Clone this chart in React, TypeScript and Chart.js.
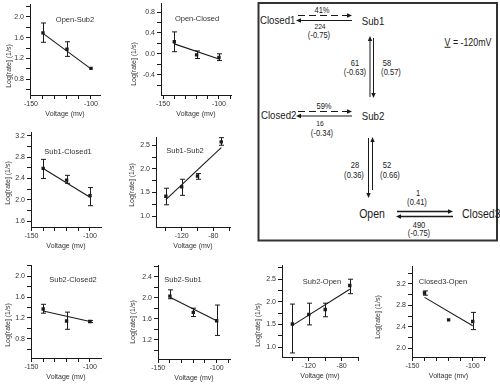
import React, { useEffect, useRef } from "react";
import { Chart, registerables } from "chart.js";
Chart.register(...registerables);

const FONT = "'Liberation Sans', Arial, sans-serif";
const INK = "#1a1a1a";
const TXT = "#333";

// ---------- data ----------
const voltages3 = [-140, -120, -100];
const voltages4 = [-140, -120, -100, -70];
const fitVoltages3 = [-140, -100];
const fitVoltages4 = [-140, -70];

const openSub2Rate = [1.69, 1.38, 1.01];
const openSub2Bars = [[1.51, 1.88], [1.24, 1.52], null];
const openSub2Fit = [1.68, 1.0];

const openClosedRate = [0.23, -0.02, -0.07];
const openClosedBars = [[0.04, 0.42], [-0.09, 0.055], [-0.13, 0.0]];
const openClosedFit = [0.19, -0.1];

const sub1Closed1Rate = [2.59, 2.37, 2.08];
const sub1Closed1Bars = [[2.4, 2.76], [2.31, 2.46], [1.89, 2.23]];
const sub1Closed1Fit = [2.59, 2.05];

const sub1Sub2Rate = [1.42, 1.62, 1.85, 2.57];
const sub1Sub2Bars = [[1.24, 1.59], [1.44, 1.78], [1.78, 1.9], [2.5, 2.66]];
const sub1Sub2Fit = [1.35, 2.45];

const sub2Closed2Rate = [1.37, 1.14, 1.13];
const sub2Closed2Bars = [[1.29, 1.46], [0.98, 1.31], [1.11, 1.15]];
const sub2Closed2Fit = [1.33, 1.13];

const sub2Sub1Rate = [2.03, 1.72, 1.56];
const sub2Sub1Bars = [[1.98, 2.15], [1.64, 1.8], [1.28, 1.86]];
const sub2Sub1Fit = [2.01, 1.56];

const sub2OpenRate = [1.51, 1.72, 1.83, 2.36];
const sub2OpenBars = [[0.87, 1.95], [1.49, 1.97], [1.67, 1.97], [2.18, 2.5]];
const sub2OpenFit = [1.48, 2.28];

const closed3OpenRate = [3.03, 2.53, 2.5];
const closed3OpenBars = [[2.99, 3.07], null, [2.35, 2.67]];
const closed3OpenFit = [2.95, 2.42];

const xTicks10 = [-150, -140, -130, -120, -110, -100, -90];
const xLabels10 = [-150, -100];
const xTicks20 = [-140, -120, -100, -80, -60];
const xLabels20 = [-120, -80];

const yTicksOpenSub2 = [0.6, 0.8, 1.0, 1.2, 1.4, 1.6, 1.8, 2.0, 2.2];
const yLabelsOpenSub2 = [0.8, 1.2, 1.6, 2.0];
const yTicksOpenClosed = [-0.6, -0.4, -0.2, 0, 0.2, 0.4, 0.6, 0.8];
const yLabelsOpenClosed = [-0.4, 0, 0.4, 0.8];
const yTicksSub1Closed1 = [1.6, 1.8, 2.0, 2.2, 2.4, 2.6, 2.8, 3.0, 3.2];
const yLabelsSub1Closed1 = [1.6, 2.0, 2.4, 2.8, 3.2];
const yTicksSub1Sub2 = [1.0, 1.25, 1.5, 1.75, 2.0, 2.25, 2.5];
const yLabelsSub1Sub2 = [1.0, 1.5, 2.0, 2.5];
const yTicksSub2Closed2 = [0.6, 0.8, 1.0, 1.2, 1.4, 1.6, 1.8, 2.0, 2.2];
const yLabelsSub2Closed2 = [0.8, 1.2, 1.6, 2.0];
const yTicksSub2Sub1 = [1.0, 1.2, 1.4, 1.6, 1.8, 2.0, 2.2, 2.4, 2.6];
const yLabelsSub2Sub1 = [1.2, 1.6, 2.0, 2.4];
const yTicksSub2Open = [1.0, 1.25, 1.5, 1.75, 2.0, 2.25, 2.5, 2.75];
const yLabelsSub2Open = [1.0, 1.5, 2.0, 2.5];
const yTicksClosed3Open = [2.0, 2.2, 2.4, 2.6, 2.8, 3.0, 3.2, 3.4];
const yLabelsClosed3Open = [2.0, 2.4, 2.8, 3.2];

const Y_TITLE = "Log[rate] (1/s)";
const X_TITLE = "Voltage (mv)";

// ---------- panel configs (layout kept separate) ----------
type Box = { axisX: number; top: number; bottom: number; right: number; tx: number; ty: number; yx: number; yy: number };
type PanelCfg = {
  title: string; volts: number[]; rate: number[]; bars: (number[] | null)[]; fitV: number[]; fit: number[];
  xMin: number; xMax: number; yMin: number; yMax: number;
  xTicks: number[]; xLabels: number[]; yTicks: number[]; yLabels: number[]; box: Box;
};

const panels: PanelCfg[] = [
  { title: "Open-Sub2", volts: voltages3, rate: openSub2Rate, bars: openSub2Bars, fitV: fitVoltages3, fit: openSub2Fit,
    xMin: -150.8, xMax: -92.5, yMin: 0.5, yMax: 2.24, xTicks: xTicks10, xLabels: xLabels10, yTicks: yTicksOpenSub2, yLabels: yLabelsOpenSub2,
    box: { axisX: 30, top: 2, bottom: 95, right: 100, tx: 75, ty: 20, yx: 8, yy: 66 } },
  { title: "Open-Closed", volts: voltages3, rate: openClosedRate, bars: openClosedBars, fitV: fitVoltages3, fit: openClosedFit,
    xMin: -151.9, xMax: -89.2, yMin: -0.79, yMax: 0.97, xTicks: xTicks10, xLabels: xLabels10, yTicks: yTicksOpenClosed, yLabels: yLabelsOpenClosed,
    box: { axisX: 161, top: 1, bottom: 95, right: 231, tx: 197, ty: 19, yx: 133, yy: 64 } },
  { title: "Sub1-Closed1", volts: voltages3, rate: sub1Closed1Rate, bars: sub1Closed1Bars, fitV: fitVoltages3, fit: sub1Closed1Fit,
    xMin: -150.4, xMax: -90.6, yMin: 1.49, yMax: 3.27, xTicks: xTicks10, xLabels: xLabels10, yTicks: yTicksSub1Closed1, yLabels: yLabelsSub1Closed1,
    box: { axisX: 31, top: 130, bottom: 227, right: 101, tx: 68, ty: 152, yx: 7, yy: 183 } },
  { title: "Sub1-Sub2", volts: voltages4, rate: sub1Sub2Rate, bars: sub1Sub2Bars, fitV: fitVoltages4, fit: sub1Sub2Fit,
    xMin: -152.5, xMax: -58.9, yMin: 0.77, yMax: 2.67, xTicks: xTicks20, xLabels: xLabels20, yTicks: yTicksSub1Sub2, yLabels: yLabelsSub1Sub2,
    box: { axisX: 156, top: 135, bottom: 227, right: 230, tx: 185, ty: 151, yx: 131, yy: 185 } },
  { title: "Sub2-Closed2", volts: voltages3, rate: sub2Closed2Rate, bars: sub2Closed2Bars, fitV: fitVoltages3, fit: sub2Closed2Fit,
    xMin: -150.4, xMax: -90.6, yMin: 0.43, yMax: 2.21, xTicks: xTicks10, xLabels: xLabels10, yTicks: yTicksSub2Closed2, yLabels: yLabelsSub2Closed2,
    box: { axisX: 31, top: 263, bottom: 358, right: 101, tx: 73, ty: 280, yx: 7, yy: 325 } },
  { title: "Sub2-Sub1", volts: voltages3, rate: sub2Sub1Rate, bars: sub2Sub1Bars, fitV: fitVoltages3, fit: sub2Sub1Fit,
    xMin: -150.2, xMax: -88.6, yMin: 0.83, yMax: 2.62, xTicks: xTicks10, xLabels: xLabels10, yTicks: yTicksSub2Sub1, yLabels: yLabelsSub2Sub1,
    box: { axisX: 158, top: 263, bottom: 359, right: 230, tx: 183, ty: 280, yx: 132, yy: 322 } },
  { title: "Sub2-Open", volts: voltages4, rate: sub2OpenRate, bars: sub2OpenBars, fitV: fitVoltages4, fit: sub2OpenFit,
    xMin: -152.7, xMax: -60, yMin: 0.78, yMax: 2.81, xTicks: xTicks20, xLabels: xLabels20, yTicks: yTicksSub2Open, yLabels: yLabelsSub2Open,
    box: { axisX: 282, top: 263, bottom: 357, right: 358, tx: 322, ty: 282, yx: 257, yy: 325 } },
  { title: "Closed3-Open", volts: voltages3, rate: closed3OpenRate, bars: closed3OpenBars, fitV: fitVoltages3, fit: closed3OpenFit,
    xMin: -150.4, xMax: -89.8, yMin: 1.84, yMax: 3.53, xTicks: xTicks10, xLabels: xLabels10, yTicks: yTicksClosed3Open, yLabels: yLabelsClosed3Open,
    box: { axisX: 412, top: 264, bottom: 357, right: 485, tx: 443, ty: 282, yx: 377, yy: 317 } },
];

const YW = 24; // y scale width
const XH = 23; // x scale height
const PT = 4;
const PR = 4;

const has = (arr: number[], v: number) => arr.some((a) => Math.abs(a - v) < 1e-6);

function Panel({ cfg }: { cfg: PanelCfg }) {
  const ref = useRef<HTMLCanvasElement>(null);
  const b = cfg.box;
  const left = b.axisX - YW;
  const top = b.top - PT;
  const w = b.right - b.axisX + YW + PR;
  const h = b.bottom - b.top + PT + XH;

  useEffect(() => {
    const c = cfg;
    const errPlugin = {
      id: "errBars",
      afterDatasetsDraw(chart: any) {
        const ctx = chart.ctx;
        const xs = chart.scales.x;
        const ys = chart.scales.y;
        ctx.save();
        ctx.strokeStyle = INK;
        ctx.lineWidth = 1;
        c.volts.forEach((v, i) => {
          const bar = c.bars[i];
          if (!bar) return;
          const x = Math.round(xs.getPixelForValue(v)) + 0.5;
          const y1 = ys.getPixelForValue(bar[0]);
          const y2 = ys.getPixelForValue(bar[1]);
          ctx.beginPath();
          ctx.moveTo(x, y1);
          ctx.lineTo(x, y2);
          ctx.moveTo(x - 2.5, y1);
          ctx.lineTo(x + 2.5, y1);
          ctx.moveTo(x - 2.5, y2);
          ctx.lineTo(x + 2.5, y2);
          ctx.stroke();
        });
        ctx.restore();
      },
    };
    const chart = new Chart(ref.current as HTMLCanvasElement, {
      type: "scatter",
      data: {
        datasets: [
          {
            data: c.fitV.map((x, i) => ({ x, y: c.fit[i] })),
            showLine: true,
            borderColor: INK,
            borderWidth: 1.1,
            pointRadius: 0,
          } as any,
          {
            data: c.volts.map((x, i) => ({ x, y: c.rate[i] })),
            pointStyle: "rect",
            pointRadius: 2.4,
            backgroundColor: INK,
            borderColor: INK,
            borderWidth: 0,
          } as any,
        ],
      },
      options: {
        animation: false,
        responsive: false,
        events: [],
        layout: { padding: { left: 0, top: PT, right: PR, bottom: 0 } },
        plugins: { legend: { display: false }, tooltip: { enabled: false } },
        scales: {
          x: {
            type: "linear",
            min: c.xMin,
            max: c.xMax,
            afterFit: (s: any) => { s.height = XH; },
            afterBuildTicks: (s: any) => {
              s.ticks = c.xTicks.filter((v) => v >= c.xMin && v <= c.xMax).map((v) => ({ value: v }));
            },
            ticks: {
              autoSkip: false,
              maxRotation: 0,
              padding: 1,
              color: TXT,
              font: { family: FONT, size: 7 },
              callback: (v: any) => (has(c.xLabels, Number(v)) ? String(v) : ""),
            },
            grid: { drawOnChartArea: false, drawTicks: true, tickLength: 4, color: INK },
            border: { display: true, color: INK, width: 1 },
            title: { display: true, text: X_TITLE, color: TXT, font: { family: FONT, size: 7 }, padding: { top: 0, bottom: 0 } },
          },
          y: {
            type: "linear",
            min: c.yMin,
            max: c.yMax,
            afterFit: (s: any) => { s.width = YW; },
            afterBuildTicks: (s: any) => {
              s.ticks = c.yTicks.filter((v) => v >= c.yMin && v <= c.yMax).map((v) => ({ value: v }));
            },
            ticks: {
              autoSkip: false,
              padding: 2,
              color: TXT,
              font: { family: FONT, size: 7 },
              callback: (v: any) => (has(c.yLabels, Number(v)) ? Number(v).toFixed(1) : ""),
            },
            grid: { drawOnChartArea: false, drawTicks: true, tickLength: 4, color: INK },
            border: { display: true, color: INK, width: 1 },
          },
        },
      } as any,
      plugins: [errPlugin],
    });
    return () => chart.destroy();
  }, []);

  return (
    <>
      <canvas ref={ref} width={w} height={h} style={{ position: "absolute", left, top, width: w, height: h }} />
      <div style={{ ...center(b.tx, b.ty), fontSize: 7.5, color: TXT, fontFamily: FONT }}>{cfg.title}</div>
      <div style={{ ...center(b.yx, b.yy), transform: "translate(-50%,-50%) rotate(-90deg)", fontSize: 7, color: TXT, fontFamily: FONT }}>{Y_TITLE}</div>
    </>
  );
}

function center(x: number, y: number): React.CSSProperties {
  return {
    position: "absolute",
    left: x,
    top: y,
    transform: "translate(-50%,-50%)",
    whiteSpace: "nowrap",
    lineHeight: 1,
  };
}

function Arrow({ x1, y1, x2, y2, dashed, w = 1 }: { x1: number; y1: number; x2: number; y2: number; dashed?: boolean; w?: number }) {
  const ang = Math.atan2(y2 - y1, x2 - x1);
  const L = 5, W = 2.2;
  const bx = x2 - L * Math.cos(ang), by = y2 - L * Math.sin(ang);
  const px = -Math.sin(ang) * W, py = Math.cos(ang) * W;
  return (
    <g>
      <line x1={x1} y1={y1} x2={bx} y2={by} stroke={INK} strokeWidth={w} strokeDasharray={dashed ? "7 4" : undefined} />
      <polygon points={`${x2},${y2} ${bx + px},${by + py} ${bx - px},${by - py}`} fill={INK} />
    </g>
  );
}

function T({ x, y, s, size = 9, left }: { x: number; y: number; s: React.ReactNode; size?: number; left?: boolean }) {
  const st = center(x, y);
  if (left) {
    st.transform = "translate(0,-50%) scaleX(0.84)";
    st.transformOrigin = "0 50%";
  } else {
    st.transform = "translate(-50%,-50%) scaleX(0.84)";
  }
  return <div style={{ ...st, fontSize: size, color: "#1a1a1a", fontFamily: FONT }}>{s}</div>;
}

function Diagram() {
  return (
    <>
      <svg width={500} height={384} style={{ position: "absolute", left: 0, top: 0 }}>
        <rect x={258.5} y={3} width={238.5} height={237.5} fill="none" stroke="#333" strokeWidth={2} />
        <Arrow x1={298} y1={15.5} x2={352} y2={15.5} dashed />
        <Arrow x1={352} y1={20.5} x2={296} y2={20.5} />
        <Arrow x1={298} y1={111.5} x2={352} y2={111.5} dashed />
        <Arrow x1={352} y1={116} x2={296} y2={116} />
        <Arrow x1={370} y1={97} x2={370} y2={36} />
        <Arrow x1={373.5} y1={38} x2={373.5} y2={98} />
        <Arrow x1={368.5} y1={138} x2={368.5} y2={198} />
        <Arrow x1={372.5} y1={190} x2={372.5} y2={137} />
        <Arrow x1={397} y1={211.5} x2={453} y2={211.5} w={1.4} />
        <Arrow x1={453} y1={216.5} x2={396} y2={216.5} w={1.4} />
      </svg>
      <T x={260} y={20.5} s="Closed1" size={11.5} left />
      <T x={373} y={21.5} s="Sub1" size={11.5} />
      <T x={322} y={9.5} s="41%" />
      <T x={320} y={26.5} s="224" size={8} />
      <T x={318.5} y={34.5} s="(-0.75)" />
      <T x={468} y={41.5} s={<><span style={{ textDecoration: "underline" }}>V</span> = -120mV</>} size={10.5} />
      <T x={355} y={63} s="61" />
      <T x={355} y={71.5} s="(-0.63)" />
      <T x={387} y={63} s="58" />
      <T x={391} y={71.5} s="(0.57)" />
      <T x={261} y={116} s="Closed2" size={11.5} left />
      <T x={323.5} y={106} s="59%" />
      <T x={373} y={116.5} s="Sub2" size={11.5} />
      <T x={320} y={123.5} s="16" size={8} />
      <T x={321.5} y={133} s="(-0.34)" />
      <T x={354.5} y={165} s="28" />
      <T x={353.5} y={175} s="(0.36)" />
      <T x={387} y={165} s="52" />
      <T x={390} y={175} s="(0.66)" />
      <T x={372} y={214} s="Open" size={12.5} />
      <T x={417.5} y={193} s="1" />
      <T x={417} y={201.5} s="(0.41)" />
      <T x={418.5} y={225} s="490" />
      <T x={418.5} y={233} s="(-0.75)" />
      <T x={462} y={213.5} s="Closed3" size={12.5} left />
    </>
  );
}

export default function App() {
  return (
    <div style={{ position: "absolute", left: 0, top: 0, width: 500, height: 384, background: "#fff", overflow: "hidden" }}>
      <Diagram />
      {panels.map((p) => (
        <Panel key={p.title} cfg={p} />
      ))}
    </div>
  );
}
